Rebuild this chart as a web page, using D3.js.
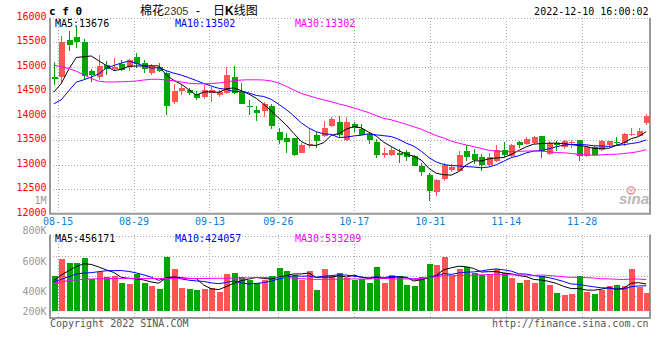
<!DOCTYPE html>
<html><head><meta charset="utf-8">
<script src="https://cdn.jsdelivr.net/npm/d3@7"></script>
<style>
body{margin:0;background:#fff}
svg{display:block}
text{font-family:"DejaVu Sans Mono",monospace;font-size:10px}
</style>
</head><body>
<svg id="chart" width="660" height="360"></svg>
<script>
// ---------------- data ----------------
const dates = ["08-12","08-15","08-16","08-17","08-18","08-19","08-22","08-23","08-24","08-25","08-26",
"08-29","08-30","08-31","09-01","09-02","09-05","09-06","09-07","09-08","09-09",
"09-13","09-14","09-15","09-16","09-19","09-20","09-21","09-22","09-23",
"09-26","09-27","09-28","09-29","09-30","10-10","10-11","10-12","10-13","10-14",
"10-17","10-18","10-19","10-20","10-21","10-24","10-25","10-26","10-27","10-28",
"10-31","11-01","11-02","11-03","11-04","11-07","11-08","11-09","11-10","11-11",
"11-14","11-15","11-16","11-17","11-18","11-21","11-22","11-23","11-24","11-25",
"11-28","11-29","11-30","12-01","12-02","12-05","12-06","12-07","12-08","12-09"];

const open  = [14802,14800,15540,15610,15515,14920,14800,15040,14960,15055,
               15005,15190,15075,14870,14995,14870,14290,14500,14517,14450,
               14375,14465,14415,14465,14800,14495,14210,14125,14100,14190,
               13660,13555,13545,13250,13400,13610,13580,13785,13870,13500,
               13830,13730,13630,13475,13190,13190,13250,13260,13170,12985,
               12795,12455,12714,12898,12878,13285,13230,13150,13000,13080,
               13306,13170,13456,13422,13442,13579,13218,13442,13354,13442,
               13510,13170,13354,13306,13395,13470,13442,13605,13592,13851];
const high  = [15096,15633,15721,15803,15572,14953,15245,15109,15177,15129,
               15150,15280,15143,15061,15075,14905,14647,14647,14565,14496,
               14633,14578,14530,14994,15007,14667,14327,14191,14280,14245,
               13749,13647,13550,13443,13750,13667,13898,13966,13986,13966,
               13872,13831,13660,13520,13341,13361,13320,13300,13210,13035,
               12830,12720,13030,13014,13272,13395,13327,13218,13238,13395,
               13463,13420,13490,13558,13592,13592,13476,13490,13503,13510,
               13515,13374,13374,13510,13490,13558,13654,13755,13742,14041];
const low   = [14633,14647,15327,15382,14755,14680,14735,14837,14905,14905,
               14905,14974,14872,14837,14892,14021,14239,14415,14415,14326,
               14347,14280,14380,14443,14455,14240,14007,13904,13966,13735,
               13423,13251,13170,13250,13340,13341,13570,13775,13558,13490,
               13667,13600,13423,13137,13137,13170,13035,13070,12970,12762,
               12271,12360,12673,12850,12864,13068,13014,12864,12966,13054,
               13150,13150,13340,13408,13422,13136,13191,13272,13327,13340,
               13082,13150,13184,13286,13374,13374,13374,13585,13579,13810];
const close = [14749,15515,15435,15515,14815,14825,15020,14955,15000,14940,
               15130,15060,14955,15025,14920,14205,14510,14565,14465,14360,
               14530,14530,14495,14835,14465,14245,14180,14055,14240,13785,
               13510,13465,13205,13410,13420,13480,13750,13935,13600,13870,
               13750,13615,13500,13190,13250,13305,13190,13150,12985,12845,
               12475,12680,13000,12946,13204,13157,13100,12986,13150,13306,
               13204,13408,13395,13524,13572,13272,13442,13408,13476,13463,
               13170,13354,13204,13490,13476,13455,13620,13630,13700,13990];
const volume = [597000,879000,811000,811000,896000,535000,665000,569000,597000,473000,
                456000,625000,473000,423000,372000,913000,710000,389000,372000,355000,
                366000,389000,327000,625000,642000,575000,530000,473000,524000,597000,
                727000,676000,608000,524000,676000,355000,710000,595000,642000,563000,
                524000,535000,473000,744000,473000,608000,592000,439000,423000,575000,
                794000,777000,913000,592000,710000,744000,637000,608000,625000,710000,
                637000,558000,473000,524000,473000,592000,439000,304000,270000,287000,
                592000,321000,287000,355000,423000,439000,423000,710000,400000,304000];

// moving-average values at the left edge (earlier history is not shown)
const ma5Lead  = [14480,14660,14950,15190];
const ma10Lead = [14245,14327,14510,14687,14735,14790,14857,14973,15027];
const ma30Lead = [15035,15000,14965,14910,14840,14760,14705,14690,14690,14695,
                  14700,14710,14730,14745,14745,14730,14715,14690,14665,14655,
                  14653,14660,14670,14690,14715,14730,14735,14735,14730];
const vma5Lead  = [513000,608000,682000,749000];
const vma10Lead = [490000,535000,580000,625000,642000,648000,665000,680000,682000];
const vma30Lead = [468000,495000,512000,525000,535000,541000,545000,548000,550000,551000,
                   551000,550000,549000,548000,548000,550000,551000,550000,549000,548000,
                   549000,551000,552000,554000,556000,558000,560000,562000,564000];

const priceTicks = [12000,12500,13000,13500,14000,14500,15000,15500,16000];
const volTicks = [800000,600000,400000,200000];
const dateTicks = ["08-15","08-29","09-13","09-26","10-17","10-31","11-14","11-28"];
const priceMaLegend = [13676,13502,13302];
const volMaLegend = [456171,424057,533209];
const maNames = ["MA5","MA10","MA30"];

// ---------------- helpers ----------------
function movingAvg(values, n, lead){
  return values.map((v,i)=> i < n-1 ? lead[i] : d3.mean(values.slice(i-n+1,i+1)));
}
const ma = [movingAvg(close,5,ma5Lead), movingAvg(close,10,ma10Lead), movingAvg(close,30,ma30Lead)];
const vma = [movingAvg(volume,5,vma5Lead), movingAvg(volume,10,vma10Lead), movingAvg(volume,30,vma30Lead)];

const L = 50, R = 650;
const mainTop = 17.8, mainBot = 213.8;
const volTop = 234.5, volBase = 311, volBot = 318;
const UP = "#ff5555", DOWN = "#00a600";
const maColors = ["#000000","#0000ff","#ff00ff"];
const GRID = "#a8a8a8", FRAME = "#999999";

const svg = d3.select("#chart");
const idx = d3.range(dates.length);
const x = d3.scaleBand().domain(idx).range([L,R]).padding(0);
const cx = i => x(i) + x.bandwidth()/2;
const tickX = d3.scaleLinear().domain([0, dates.length-1]).range([L,R]);
const y = d3.scaleLinear().domain([12000,16000]).range([mainBot, mainTop]);
const vy = d3.scaleLinear().domain([0,1000000]).range([volBase, volBase - 1000000/16900]);
const vLabelY = d3.scaleLinear().domain([200000,400000,600000,800000]).range([311,291,261,230.3]);
const volGridY = d3.scaleLinear().domain([0,4]).range([235.5,315.5]);
const bodyW = 6;
const tickIdx = dateTicks.map(d=>dates.indexOf(d));

// ---------------- grids ----------------
const grid = svg.append("g").attr("stroke",GRID).attr("stroke-dasharray","1,2").attr("shape-rendering","crispEdges");
priceTicks.filter(v=>v>12000).forEach(v=>{
  grid.append("line").attr("x1",L).attr("x2",R).attr("y1",Math.round(y(v))+0.5).attr("y2",Math.round(y(v))+0.5);
});
tickIdx.forEach(i=>{
  const xx = Math.round(tickX(i))+0.5;
  grid.append("line").attr("x1",xx).attr("x2",xx).attr("y1",mainTop).attr("y2",mainBot);
  grid.append("line").attr("x1",xx).attr("x2",xx).attr("y1",volTop).attr("y2",volBot);
});
[0,1,2,3].forEach(k=>{
  const yy = Math.round(volGridY(k))+0.5;
  grid.append("line").attr("x1",L).attr("x2",R).attr("y1",yy).attr("y2",yy);
});

// ---------------- frames ----------------
const frame = svg.append("g").attr("stroke",FRAME).attr("stroke-width",2).attr("fill","none");
frame.append("path").attr("d",`M${L},${mainTop}V${mainBot}H${R}V${mainTop}`);
frame.append("path").attr("d",`M${L},${volTop}V${volBot}H${R}V${volTop}`);

// ---------------- axes ----------------
const yAxis = svg.append("g").attr("transform",`translate(${L},-2)`)
  .call(d3.axisLeft(y).tickValues(priceTicks).tickFormat(d3.format("d")).tickSize(0).tickPadding(3.5));
yAxis.select(".domain").remove();
yAxis.selectAll("text").attr("fill","#ff0000").style("font-size","10px").style("font-family","DejaVu Sans Mono");

svg.append("text").attr("x",46.5).attr("y",200.7).attr("dy","0.35em").attr("text-anchor","end")
  .attr("fill","#999").text("1M");

const xAxis = svg.append("g").attr("transform",`translate(0,${mainBot})`)
  .call(d3.axisBottom(tickX).tickValues(tickIdx).tickFormat(i=>dates[i]).tickSize(0).tickPadding(4.5));
xAxis.select(".domain").remove();
xAxis.selectAll("text").attr("fill","#0a7fd6").style("font-size","10px").style("font-family","DejaVu Sans Mono");

const vAxis = svg.append("g").attr("transform",`translate(${L},0)`)
  .call(d3.axisLeft(vLabelY).tickValues(volTicks).tickFormat(v=>(v/1000)+"K").tickSize(0).tickPadding(3.5));
vAxis.select(".domain").remove();
vAxis.selectAll("text").attr("fill","#999").style("font-size","10px").style("font-family","DejaVu Sans Mono");

// ---------------- watermark ----------------
const wm = svg.append("g");
wm.append("circle").attr("cx",631).attr("cy",190.5).attr("r",3.6).attr("fill","none").attr("stroke","#f2a6a6").attr("stroke-width",1.8);
wm.append("circle").attr("cx",631).attr("cy",190.5).attr("r",1.2).attr("fill","#f2a6a6");
wm.append("text").attr("x",619).attr("y",204).attr("fill","#b8b8b8")
  .style("font-family","Liberation Sans").style("font-size","15px").style("font-weight","bold").style("font-style","italic").text("sina");

// ---------------- candles ----------------
const candles = svg.append("g").attr("shape-rendering","crispEdges");
idx.forEach(i=>{
  const col = close[i] >= open[i] ? UP : DOWN;
  const xx = Math.round(cx(i)) + 0.5;
  candles.append("line").attr("x1",xx).attr("x2",xx).attr("y1",y(high[i])).attr("y2",y(low[i])).attr("stroke",col);
  const top = y(Math.max(open[i],close[i])), bot = y(Math.min(open[i],close[i]));
  candles.append("rect").attr("x",Math.round(cx(i)) - bodyW/2 + 0.5).attr("width",bodyW)
    .attr("y",top).attr("height",Math.max(1,bot-top)).attr("fill",col);
});

// ---------------- MA lines ----------------
const lineP = d3.line().x((d,i)=>cx(i)).y(d=>y(d));
ma.forEach((s,k)=>{
  svg.append("path").attr("d",lineP(s)).attr("fill","none").attr("stroke",maColors[k]).attr("stroke-width",1);
});

// ---------------- volume ----------------
const vols = svg.append("g").attr("shape-rendering","crispEdges");
idx.forEach(i=>{
  const col = close[i] >= open[i] ? UP : DOWN;
  vols.append("rect").attr("x",Math.round(cx(i)) - bodyW/2 + 0.5).attr("width",bodyW)
    .attr("y",vy(volume[i])).attr("height",vy(0)-vy(volume[i])).attr("fill",col);
});
const lineV = d3.line().x((d,i)=>cx(i)).y(d=>vy(d));
vma.forEach((s,k)=>{
  svg.append("path").attr("d",lineV(s)).attr("fill","none").attr("stroke",maColors[k]).attr("stroke-width",1);
});

// ---------------- texts ----------------
const legX = [55,175,295];
maNames.forEach((n,k)=>{
  svg.append("text").attr("x",legX[k]).attr("y",23.7).attr("dy","0.35em").attr("fill",maColors[k]).text(n+":"+priceMaLegend[k]);
  svg.append("text").attr("x",legX[k]).attr("y",238.3).attr("dy","0.35em").attr("fill",maColors[k]).text(n+":"+volMaLegend[k]);
});

svg.append("text").attr("x",49).attr("y",11.5).attr("dy","0.35em").style("font-size","11px").style("font-weight","bold").text("c f 0");

const title = svg.append("text").attr("y",11).attr("dy","0.38em").attr("fill","#000");
title.append("tspan").attr("x",140).style("font-family","Noto Sans CJK SC").style("font-size","12px").text("棉花");
title.append("tspan").style("font-family","Liberation Sans").style("font-size","11px").attr("fill","#333").text("2305");
title.append("tspan").attr("x",196).style("font-family","Liberation Sans").style("font-size","12px").text("-");
title.append("tspan").attr("x",213).style("font-family","Noto Sans CJK SC").style("font-size","12px").text("日");
title.append("tspan").style("font-family","Liberation Sans").style("font-size","12px").style("font-weight","bold").text("K");
title.append("tspan").style("font-family","Noto Sans CJK SC").style("font-size","12px").text("线图");

svg.append("text").attr("x",648.5).attr("y",11.7).attr("dy","0.35em").attr("text-anchor","end").text("2022-12-10 16:00:02");

svg.append("text").attr("x",50).attr("y",323.3).attr("dy","0.35em").attr("fill","#555").text("Copyright 2022 SINA.COM");
svg.append("text").attr("x",648.5).attr("y",323.3).attr("dy","0.35em").attr("text-anchor","end").attr("fill","#555").text("http://finance.sina.com.cn");
</script>
</body></html>
